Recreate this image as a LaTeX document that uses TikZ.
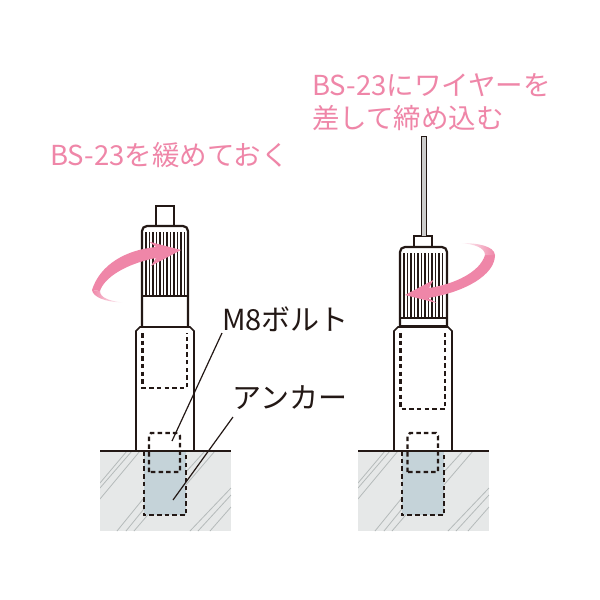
\documentclass[tikz,border=0pt]{standalone}
\usepackage{fontspec}
\setmainfont{Noto Sans CJK JP}
\definecolor{pk}{HTML}{EF86A8}
\definecolor{gnd}{HTML}{E6E8E8}
\definecolor{anc}{HTML}{C5D3D9}
\definecolor{hat}{HTML}{B5BABA}
\definecolor{ink}{HTML}{231815}
\tikzset{
 ln/.style={draw=ink,line width=1.6pt},
 kn/.style={draw=ink,line width=2.2pt},
 dsh/.style={draw=ink,line width=2.4pt,dash pattern=on 4.5pt off 3.2pt},
 hatch/.style={draw=hat,line width=0.8pt},
 lbl/.style={font=\fontsize{27.5}{30}\selectfont,inner sep=0pt,anchor=west},
 blbl/.style={font=\fontsize{29}{30}\selectfont,inner sep=0pt,anchor=west,text=ink},
 rib/.style={draw=ink,line width=1.3pt},
}
\newcommand{\groundhatch}[1]{%
 \begin{scope}[shift={(#1,0)}]
 \fill[gnd] (100,451) rectangle (231,531);
 \begin{scope}
 \clip (100,451) rectangle (231,531);
 \foreach \a/\b/\c/\d in {100/483/127/451,100/488/132/451,100/499/140/451,
   117/531/152/488,126/531/152/499,134/531/152/510,
   185/473/205/451,185/486/215/451,
   190/531/231/488,198/531/231/495,210/531/231/507}
   \draw[hatch] (\a,\b) -- (\c,\d);
 \end{scope}
 \end{scope}}
\begin{document}
\begin{tikzpicture}[x=1pt,y=-1pt]
\useasboundingbox (0,0) rectangle (600,600);
\fill[white] (0,0) rectangle (600,600);

% left ground
\groundhatch{0}
\fill[anc] (144,451) rectangle (186,515);
% left device
\draw[ln] (136,451) -- (136,331) -- (140,327) -- (190,327) -- (194,331) -- (194,451);
\draw[ln] (156,226) -- (156,206) -- (174,206) -- (174,226);
\draw[kn,rounded corners=5pt] (142,327) -- (142,226) -- (188,226) -- (188,327);
\draw[kn] (142,296) -- (188,296);
\foreach \i in {0,...,11} \draw[rib] ({146+\i*3.5},232) -- ({146+\i*3.5},296);
\draw[dsh] (142.5,333) -- (142.5,388) -- (187,388) -- (187,333);
\draw[dsh] (149,472) -- (149,436) -- (151,433) -- (178,433) -- (180,436) -- (180,472) -- cycle;
\draw[dsh] (144,451) -- (144,515) -- (186,515) -- (186,451);
\draw[ln] (100,451) -- (231,451);
% left arrow
\fill[pk] (181,250) -- (149.3,241.7) -- (156,247) .. controls (125,250) and (100,265) .. (92,290) -- (100,291) .. controls (104,278) and (125,264) .. (156,258) -- (151,266) -- cycle;
\shade[left color=pk,right color=white] (92,290) .. controls (93,297) and (105,302) .. (123,302.5) .. controls (110,301) and (100,298) .. (100,291) -- cycle;

% right ground
\groundhatch{258}
\fill[anc] (402,451) rectangle (444,515);
% right device
\draw[ln] (394,451) -- (394,331) -- (398,327) -- (448,327) -- (452,331) -- (452,451);
\draw[ln] (414,247) -- (414,236) -- (432,236) -- (432,247);
\draw[draw=ink,line width=0.8pt,fill=gray!40] (421,136) rectangle (426,236);
\draw[kn,rounded corners=5pt] (400,327) -- (400,247) -- (447,247) -- (447,327);
\draw[kn] (400,318) -- (447,318);
\draw[ln] (400,326) -- (447,326);
\foreach \i in {0,...,11} \draw[rib] ({404+\i*3.5},253) -- ({404+\i*3.5},318);
\draw[dsh] (400.5,333) -- (400.5,409) -- (445,409) -- (445,333);
\draw[dsh] (407.5,472) -- (407.5,436) -- (410,433) -- (436,433) -- (438,436) -- (438,472) -- cycle;
\draw[dsh] (402,451) -- (402,515) -- (444,515) -- (444,451);
\draw[ln] (358,451) -- (489,451);
% right arrow
\fill[pk] (405,295) -- (433.3,280) -- (429,288) .. controls (455,284) and (480,272) .. (485,255) -- (495,255) .. controls (495,275) and (465,292) .. (428,298) -- (436.7,303) -- cycle;
\shade[left color=white,right color=pk] (460,243) .. controls (478,243) and (494,246) .. (495,255) -- (485,255) .. controls (485,248) and (475,244) .. (460,243) -- cycle;

% labels
\node[lbl,text=pk] (t1) at (50,155) {BS-23を緩めておく};
\node[lbl,text=pk] (t2) at (312,85) {BS-23にワイヤーを};
\node[lbl,text=pk] (t3) at (312,118) {差して締め込む};
\node[blbl] (m8) at (222,319) {M8ボルト};
\node[blbl] (an) at (232,398) {アンカー};
% leaders
\coordinate (m8e) at (172,441);
\coordinate (ane) at (173,500);
\draw[ln,line width=1.2pt] (222,333) -- (m8e);
\draw[ln,line width=1.2pt] (233,417) -- (ane);
\end{tikzpicture}
\end{document}
